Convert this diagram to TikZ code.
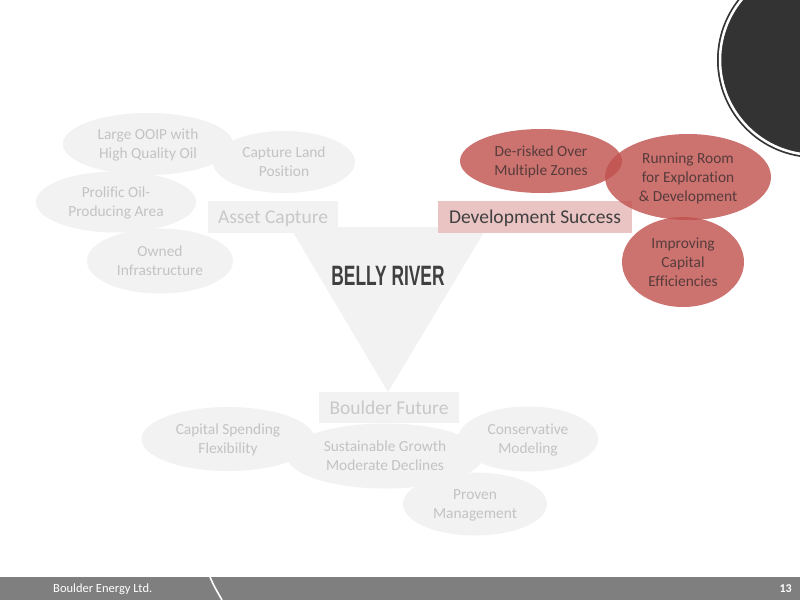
\documentclass[tikz,border=0pt]{standalone}
\usepackage{fontspec}
\setmainfont[Ligatures=NoCommon]{Carlito}
\newfontfamily\titlefont[FakeStretch=0.62]{Liberation Sans Bold}
\usetikzlibrary{shapes.geometric}
\definecolor{lightfill}{HTML}{F2F2F2}
\definecolor{lighttext}{HTML}{C3C3C3}
\definecolor{boxtext}{HTML}{C8C8C8}
\definecolor{redfill}{HTML}{C0504D}
\definecolor{redtext}{HTML}{573B3B}
\definecolor{pinkbox}{HTML}{EAC3C3}
\definecolor{darktext}{HTML}{404040}
\definecolor{darkcircle}{HTML}{333333}
\definecolor{footer}{HTML}{7F7F7F}
\tikzset{
  ellbase/.style={ellipse, inner sep=0pt, align=center, text depth=0pt, font=\fontsize{15.4}{19}\selectfont},
  gell/.style={ellbase, fill=lightfill, text=lighttext},
  rell/.style={ellbase, fill=redfill, fill opacity=0.8, text opacity=1, text=redtext},
  labelbox/.style={rectangle, inner sep=0pt, text depth=0pt, font=\fontsize{19.5}{22}\selectfont},
  greybox/.style={labelbox, fill=lightfill, text=boxtext},
}
\begin{document}
\begin{tikzpicture}[x=1pt,y=-1pt]
\useasboundingbox (0,0) rectangle (800,600);
\clip (0,0) rectangle (800,600);
\fill[white] (0,0) rectangle (800,600);
% dark circle top right
\fill[darkcircle] (815,60) circle[radius=98];
\draw[white, line width=2.5pt] (815,60) circle[radius=95];
% triangle
\fill[lightfill] (290,227) -- (487,227) -- (388,392) -- cycle;
\node[font=\titlefont\fontsize{28}{30}\selectfont, text=darktext] (title) at (388,276) {BELLY RIVER};
% grey ellipses (asset capture)
\node[gell, minimum width=170, minimum height=62] (ooip) at (148,144) {Large OOIP with\\High Quality Oil};
\node[gell, minimum width=142, minimum height=62] (land) at (284,162) {Capture Land\\Position};
\node[gell, minimum width=160, minimum height=61] (prolific) at (116,202) {Prolific Oil-\\Producing Area};
\node[gell, minimum width=146, minimum height=65] (owned) at (160,261) {Owned\\Infrastructure};
% grey ellipses (boulder future)
\node[gell, minimum width=173, minimum height=64] (capspend) at (228,439) {Capital Spending\\Flexibility};
\node[gell, minimum width=196, minimum height=65] (sustain) at (385,456) {Sustainable Growth\\Moderate Declines};
\node[gell, minimum width=140, minimum height=65] (conserv) at (528,439) {Conservative\\Modeling};
\node[gell, minimum width=144, minimum height=63] (proven) at (475,504) {Proven\\Management};
% label boxes
\node[greybox, minimum width=130, minimum height=32] (asset) at (273,217) {Asset Capture};
\node[greybox, minimum width=140, minimum height=31] (future) at (389,407.5) {Boulder Future};
\node[labelbox, fill=pinkbox, text=darktext, minimum width=194, minimum height=32] (devsucc) at (535,217) {Development Success};
% red ellipses
\node[rell, minimum width=162, minimum height=64] (derisk) at (541,161) {De-risked Over\\Multiple Zones};
\node[rell, minimum width=166, minimum height=86] (running) at (688,177) {Running Room\\for Exploration\\\& Development};
\node[rell, minimum width=122, minimum height=90] (improve) at (683,262) {Improving\\Capital\\Efficiencies};
% footer
\fill[footer] (0,577) rectangle (800,600);
\coordinate (arcA) at (210,577);
\coordinate (arcB) at (222,600);
\draw[white, line width=1.6pt] (arcA) .. controls (214,586) .. (arcB);
\node[anchor=west, text=white, font=\fontsize{12.5}{14}\selectfont, inner sep=0pt] (company) at (53,589) {Boulder Energy Ltd.};
\node[anchor=east, text=white, font=\bfseries\fontsize{12}{14}\selectfont, inner sep=0pt] (page) at (792,589) {13};
\end{tikzpicture}
\end{document}
